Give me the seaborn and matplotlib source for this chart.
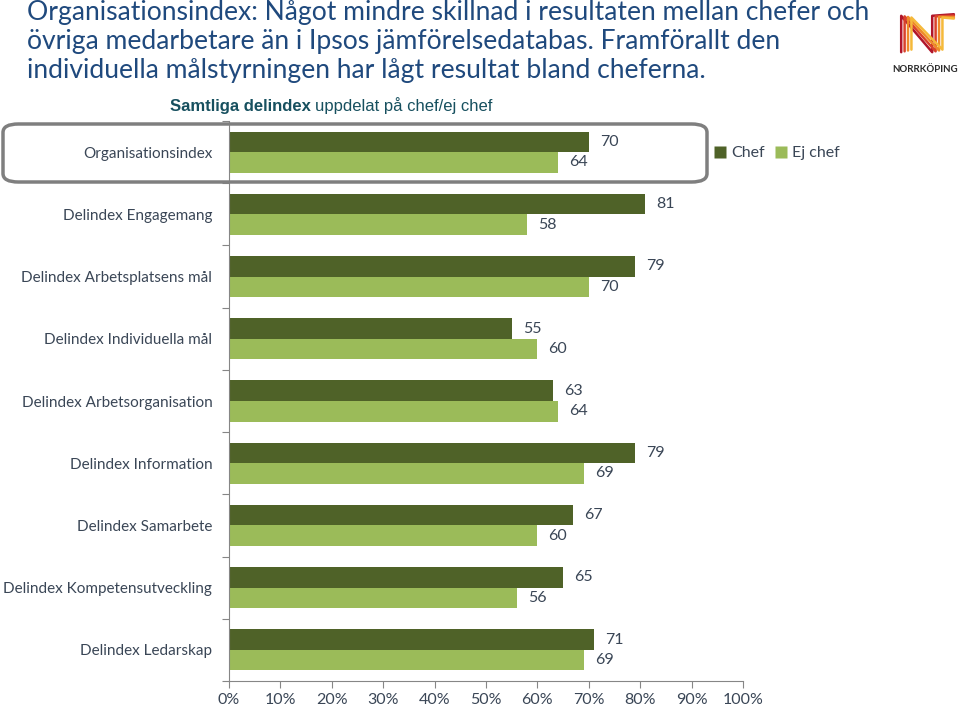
import matplotlib
matplotlib.use("Agg")
import matplotlib.pyplot as plt
import seaborn as sns
import pandas as pd
from matplotlib.patches import FancyBboxPatch
from matplotlib.lines import Line2D

categories = ["Organisationsindex", "Delindex Engagemang", "Delindex Arbetsplatsens mål",
              "Delindex Individuella mål", "Delindex Arbetsorganisation", "Delindex Information",
              "Delindex Samarbete", "Delindex Kompetensutveckling", "Delindex Ledarskap"]
chef = [70, 81, 79, 55, 63, 79, 67, 65, 71]
ej_chef = [64, 58, 70, 60, 64, 69, 60, 56, 69]
series = ["Chef", "Ej chef"]
xticks = [0, 10, 20, 30, 40, 50, 60, 70, 80, 90, 100]

colors = {"Chef": "#4F6228", "Ej chef": "#9BBB59"}
txt_col = "#3A4656"
FONT = ["Lato", "DejaVu Sans"]
ARIAL = ["Liberation Sans", "DejaVu Sans"]

df = pd.DataFrame({
    "cat": categories * 2,
    "val": chef + ej_chef,
    "ser": ["Chef"] * len(chef) + ["Ej chef"] * len(ej_chef),
})

sns.set_theme(style="white")
plt.rcParams["font.family"] = FONT

fig = plt.figure(figsize=(9.6, 7.13), dpi=100)
ax = fig.add_axes([229/960, 1 - 681/713, (743-229)/960, (681-121)/713])

sns.barplot(data=df, y="cat", x="val", hue="ser", order=categories, hue_order=series,
            palette=colors, orient="h", width=0.66, gap=0, saturation=1, ax=ax, legend=False,
            edgecolor="none")

ax.set_xlim(0, 100)
ax.set_ylim(len(categories) - 0.5, -0.5)
ax.set_xlabel("")
ax.set_ylabel("")
ax.set_xticks(xticks)
ax.set_xticklabels([f"{t}%" for t in xticks], fontsize=11.5, color=txt_col)
ax.set_yticks(range(len(categories)))
ax.set_yticklabels(categories, fontsize=11, color=txt_col)
ax.tick_params(axis="y", length=0, pad=12)
ax.set_yticks([i - 0.5 for i in range(len(categories) + 1)], minor=True)
ax.tick_params(axis="y", which="minor", length=5, color="#868686", width=0.8, direction="out", left=True)
ax.tick_params(axis="x", length=5, color="#868686", width=0.8, direction="out", bottom=True, pad=4)
for s in ["top", "right"]:
    ax.spines[s].set_visible(False)
for s in ["left", "bottom"]:
    ax.spines[s].set_color("#868686")
    ax.spines[s].set_linewidth(0.8)

for cont in ax.containers:
    ax.bar_label(cont, labels=[f"{v:.0f}" for v in cont.datavalues], padding=8,
                 fontsize=11.5, color=txt_col)

# legend
handles = [Line2D([], [], marker="s", linestyle="none", markersize=8,
                  markerfacecolor=colors[s], markeredgecolor="none") for s in series]
fig.legend(handles, series, loc="center left", bbox_to_anchor=(714/960, 1 - 153/713),
           ncol=2, frameon=False, fontsize=11.5, handlelength=0.8, handletextpad=0.3,
           columnspacing=0.6, borderpad=0, borderaxespad=0, labelcolor=txt_col)

# highlight rounded rectangle
box = FancyBboxPatch((3/960, 1 - 182/713), (704/960), (58/713),
                     boxstyle="round,pad=0,rounding_size=0.016",
                     transform=fig.transFigure, fill=False, edgecolor="#7F7F7F", linewidth=2.5,
                     mutation_aspect=713/960)
fig.add_artist(box)

# title
title = ("Organisationsindex: Något mindre skillnad i resultaten mellan chefer och\n"
         "övriga medarbetare än i Ipsos jämförelsedatabas. Framförallt den\n"
         "individuella målstyrningen har lågt resultat bland cheferna.")
fig.text(27/960, 1 - 0/713, title, ha="left", va="top", fontsize=19.1, color="#1F497D",
         linespacing=1.2, family=FONT)

# subtitle
t1 = fig.text(170/960, 1 - 106/713, "Samtliga delindex", ha="left", va="center", fontsize=12,
              color="#17505F", fontweight="bold", family=ARIAL)
renderer = fig.canvas.get_renderer()
bb = t1.get_window_extent(renderer=renderer)
fig.text((bb.x1 + 4) / 960, 1 - 106/713, "uppdelat på chef/ej chef", ha="left", va="center",
         fontsize=12, color="#17505F", family=ARIAL)

# logo
lax = fig.add_axes([895/960, 1 - 60/713, 62/960, 52/713])
lax.set_xlim(0, 10)
lax.set_ylim(0, 10)
lax.axis("off")
logo_cols = ["#B0162B", "#D9412B", "#EE8A2A", "#F5B93A"]
for i, c in enumerate(logo_cols):
    o = i * 0.55
    lax.plot([1.0 + o, 1.0 + o, 6.0 + o, 6.0 + o, 9.5],
             [1.5 + o * 0.3, 8.5 - o * 0.2, 1.5 + o * 0.3, 8.5 - o * 0.2, 8.8 - o * 0.5],
             color=c, lw=1.8, solid_capstyle="round")
fig.text(925/960, 1 - 70/713, "NORRKÖPING", ha="center", va="center", fontsize=7,
         fontweight="bold", color="#2B2B2B", family=FONT)

fig.savefig("out.png", dpi=100)
